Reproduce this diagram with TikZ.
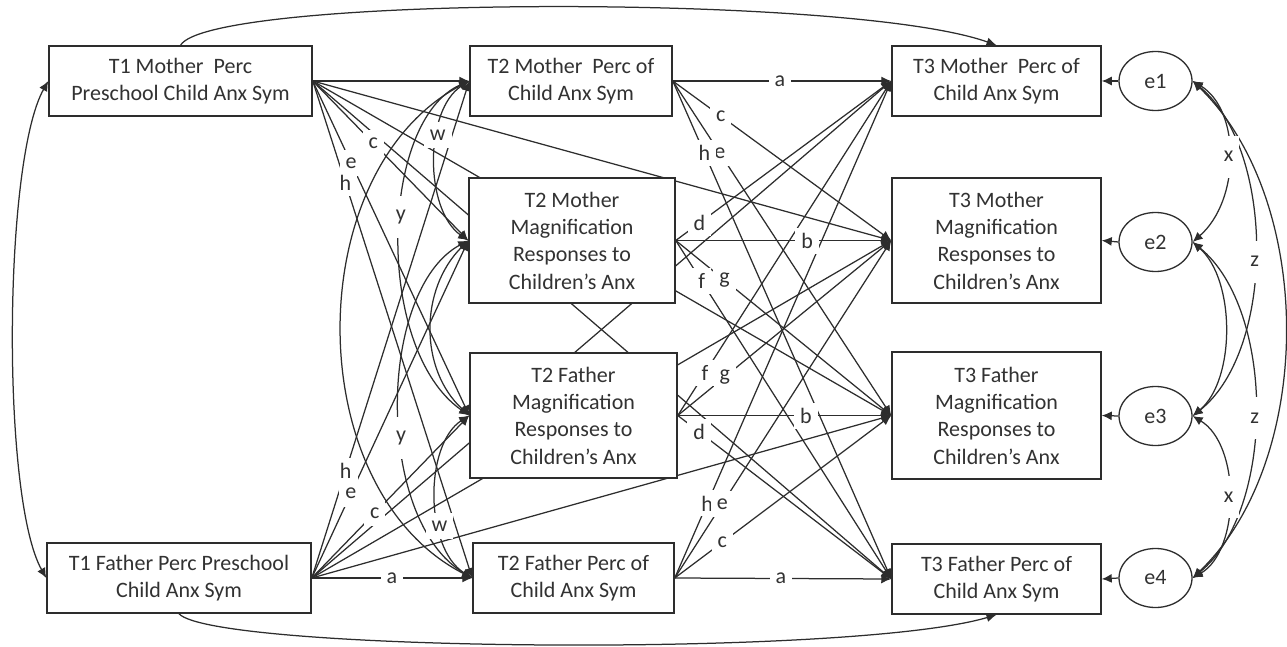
\documentclass[tikz,border=0pt]{standalone}
\usepackage{fontspec}
\setmainfont{Carlito}
\usetikzlibrary{arrows.meta,shapes.geometric}
\definecolor{lc}{RGB}{45,45,45}
\definecolor{tc}{RGB}{50,50,50}
\newcommand\bxfont{\fontsize{22}{27.3}\selectfont}
\pgfdeclarelayer{edges}
\pgfsetlayers{edges,main}
\begin{document}
\begin{tikzpicture}[x=1pt,y=-1pt,
  box/.style={draw=lc, line width=1.5pt, fill=white, align=center, inner sep=0pt, font=\bxfont, text=tc},
  errnode/.style={draw=lc, line width=1.3pt, fill=white, ellipse, minimum width=73pt, minimum height=59pt, inner sep=0pt, font=\bxfont, text=tc},
  ln/.style={draw=lc, line width=1.25pt},
  arr/.style={ln, -{Latex[length=10pt,width=9pt]}},
  darr/.style={ln, {Latex[length=10pt,width=9pt]}-{Latex[length=10pt,width=9pt]}},
  lbl/.style={fill=white, inner xsep=6pt, inner ysep=0pt, minimum height=26pt, font=\bxfont, text=tc},
  lblv/.style={lbl, minimum height=42pt}]
\useasboundingbox (0,0) rectangle (1287,647);

% ---- boxes
\node[box, minimum width=263pt, minimum height=70pt] (t1m) at (180.5,81) {T1 Mother~ Perc\\Preschool Child Anx Sym};
\node[box, minimum width=264pt, minimum height=70pt] (t1f) at (179,578) {T1 Father Perc Preschool\\Child Anx Sym};
\node[box, minimum width=202pt, minimum height=70pt] (t2mp) at (571,81) {T2 Mother~ Perc of\\Child Anx Sym};
\node[box, minimum width=206pt, minimum height=125pt] (t2mm) at (572,240.5) {T2 Mother\\Magnification\\Responses to\\Children’s Anx};
\node[box, minimum width=207pt, minimum height=125pt] (t2fm) at (573.5,415.5) {T2 Father\\Magnification\\Responses to\\Children’s Anx};
\node[box, minimum width=201pt, minimum height=70pt] (t2fp) at (573.5,578) {T2 Father Perc of\\Child Anx Sym};
\node[box, minimum width=209pt, minimum height=70pt] (t3mp) at (996.5,81) {T3 Mother~ Perc of\\Child Anx Sym};
\node[box, minimum width=209pt, minimum height=125pt] (t3mm) at (996.5,240.5) {T3 Mother\\Magnification\\Responses to\\Children’s Anx};
\node[box, minimum width=209pt, minimum height=127pt] (t3fm) at (996.5,415.5) {T3 Father\\Magnification\\Responses to\\Children’s Anx};
\node[box, minimum width=209pt, minimum height=70pt] (t3fp) at (996.5,579) {T3 Father Perc of\\Child Anx Sym};
\node[errnode] (e1) at (1155.5,81) {e1};
\node[errnode] (e2) at (1155.5,242) {e2};
\node[errnode] (e3) at (1155.5,416) {e3};
\node[errnode] (e4) at (1155.5,578) {e4};

\begin{pgfonlayer}{edges}
% T1 mother
\draw[arr] (t1m.east) -- (t2mp.west);
\draw[arr] (t1m.east) -- (t2mm.west) coordinate[pos=.39] (Lc1);
\draw[arr] (t1m.east) -- (t2fm.west) coordinate[pos=.245] (Le1);
\draw[arr] (t1m.east) -- (t2fp.west) coordinate[pos=.205] (Lh1);
\draw[arr] (t1m.east) -- (t3mm.west);
\draw[arr] (t1m.east) -- (t3fm.west);
\draw[arr] (t1m.east) -- (t3fp.west);
\draw[arr] (t1m.north) .. controls +(30,-50) and +(-145,-52) .. (t3mp.north);
% T1 father
\draw[arr] (t1f.east) -- (t2fp.west) coordinate[pos=.5] (La1);
\draw[arr] (t1f.east) -- (t2fm.west) coordinate[pos=.4] (Lc2);
\draw[arr] (t1f.east) -- (t2mm.west) coordinate[pos=.25] (Le2);
\draw[arr] (t1f.east) -- (t2mp.west) coordinate[pos=.216] (Lh2);
\draw[arr] (t1f.east) -- (t3fm.west);
\draw[arr] (t1f.east) -- (t3mm.west);
\draw[arr] (t1f.east) -- (t3mp.west);
\draw[arr] (t1f.south) .. controls +(35,38) and +(-145,43) .. (t3fp.south);
% T1 covariance
\draw[darr] (t1m.west) .. controls +(-45,80) and +(-45,-80) .. (t1f.west);
% T2 mother perc
\draw[arr] (t2mp.east) -- (t3mp.west) coordinate[pos=.49] (La3);
\draw[arr] (t2mp.east) -- (t3mm.west) coordinate[pos=.22] (Lc3);
\draw[arr] (t2mp.east) -- (t3fm.west) coordinate[pos=.215] (Le3);
\draw[arr] (t2mp.east) -- (t3fp.west) coordinate[pos=.145] (Lh3);
% T2 mother mag
\draw[arr] (t2mm.east) -- (t3mm.west) coordinate[pos=.61] (Lb1);
\draw[arr] (t2mm.east) -- (t3mp.west) coordinate[pos=.11] (Ld1);
\draw[arr] (t2mm.east) -- (t3fm.west) coordinate[pos=.226] (Lg1);
\draw[arr] (t2mm.east) -- (t3fp.west) coordinate[pos=.12] (Lf1);
% T2 father mag
\draw[arr] (t2fm.east) -- (t3fm.west) coordinate[pos=.6] (Lb2);
\draw[arr] (t2fm.east) -- (t3mp.west) coordinate[pos=.128] (Lf2);
\draw[arr] (t2fm.east) -- (t3mm.west) coordinate[pos=.22] (Lg2);
\draw[arr] (t2fm.east) -- (t3fp.west) coordinate[pos=.10] (Ld2);
% T2 father perc
\draw[arr] (t2fp.east) -- (t3fp.west) coordinate[pos=.49] (La4);
\draw[arr] (t2fp.east) -- (t3mp.west) coordinate[pos=.15] (Lh4);
\draw[arr] (t2fp.east) -- (t3mm.west) coordinate[pos=.22] (Le4);
\draw[arr] (t2fp.east) -- (t3fm.west) coordinate[pos=.22] (Lc4);
% T2 covariances
\draw[darr] (t2mp.west) .. controls +(-45,29) and +(-44,-31) .. (t2mm.west) coordinate[pos=.37] (Lw1);
\draw[darr] (t2mp.west) .. controls +(-90,39) and +(-95,-66) .. (t2fm.west) coordinate[pos=.45] (Ly1);
\draw[darr] (t2mm.west) .. controls +(-91,49) and +(-98,-58) .. (t2fp.west) coordinate[pos=.575] (Ly2);
\draw[darr] (t2fm.west) .. controls +(-45,29) and +(-48,-30) .. (t2fp.west) coordinate[pos=.65] (Lw2);
\draw[darr] (t2mm.west) .. controls +(-49,49) and +(-50,-46) .. (t2fm.west);
\draw[darr] (t2mp.west) .. controls +(-170,89) and +(-173,-88) .. (t2fp.west);
% errors
\draw[arr] (e1.west) -- (t3mp.east);
\draw[arr] (e2.west) -- (t3mm.east);
\draw[arr] (e3.west) -- (t3fm.east);
\draw[arr] (e4.west) -- (t3fp.east);
\draw[darr] (e1.east) .. controls +(48,29) and +(48,-42) .. (e2.east) coordinate[pos=.5] (Lx1);
\draw[darr] (e1.east) .. controls +(83,69) and +(83,-66) .. (e3.east) coordinate[pos=.53] (Lz1);
\draw[darr] (e1.east) .. controls +(123,119) and +(123,-118) .. (e4.east);
\draw[darr] (e2.east) .. controls +(43,38) and +(43,-36) .. (e3.east);
\draw[darr] (e2.east) .. controls +(83,68) and +(83,-68) .. (e4.east) coordinate[pos=.52] (Lz2);
\draw[darr] (e3.east) .. controls +(48,29) and +(48,-28) .. (e4.east) coordinate[pos=.5] (Lx2);
\end{pgfonlayer}

% ---- labels
\node[lbl] at (Lc1) {c};
\node[lbl] at (Le1) {e};
\node[lbl] at (Lh1) {h};
\node[lbl] at (La1) {a};
\node[lbl] at (Lc2) {c};
\node[lbl] at (Le2) {e};
\node[lbl] at (Lh2) {h};
\node[lbl] at (La3) {a};
\node[lbl] at (Lc3) {c};
\node[lbl] at (Le3) {e};
\node[lbl] at (Lh3) {h};
\node[lbl] at (Lb1) {b};
\node[lbl] at (Ld1) {d};
\node[lbl] at (Lg1) {g};
\node[lbl] at (Lf1) {f};
\node[lbl] at (Lb2) {b};
\node[lbl] at (Lf2) {f};
\node[lbl] at (Lg2) {g};
\node[lbl] at (Ld2) {d};
\node[lbl] at (La4) {a};
\node[lbl] at (Lh4) {h};
\node[lbl] at (Le4) {e};
\node[lbl] at (Lc4) {c};
\node[lbl] at (Lw1) {w};
\node[lblv] at (Ly1) {y};
\node[lblv] at (Ly2) {y};
\node[lbl] at (Lw2) {w};
\node[lblv] at (Lx1) {x};
\node[lblv] at (Lz1) {z};
\node[lblv] at (Lz2) {z};
\node[lblv] at (Lx2) {x};
\end{tikzpicture}
\end{document}
